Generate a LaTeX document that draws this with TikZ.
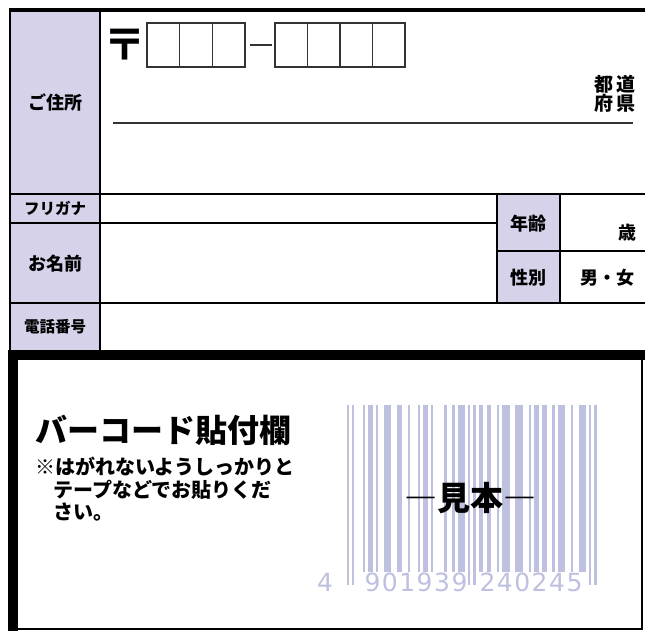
\documentclass[tikz,border=0pt]{standalone}
\usepackage{fontspec}
\usepackage{xcolor}
\usepackage{tikz}
\usetikzlibrary{positioning}
\newfontfamily\jp{Noto Sans CJK JP}
\newfontfamily\digits{DejaVu Sans}[LetterSpace=6]
\definecolor{lav}{HTML}{D5D2EA}
\definecolor{barc}{HTML}{BEC0E0}
\definecolor{rule}{HTML}{333333}

\begin{document}
\begin{tikzpicture}[x=1pt,y=-1pt,inner sep=0pt,
    head/.style={font=\jp\bfseries\fontsize{18}{18}\selectfont},
    small head/.style={font=\jp\bfseries\fontsize{15.5}{16}\selectfont},
    grid/.style={line width=2pt},
    box/.style={draw=rule,line width=1.2pt},
    num/.style={font=\digits\fontsize{25}{25}\selectfont,text=barc}]
    \useasboundingbox (0,0) rectangle (645,632);

    \fill[lav] (10,10) rectangle (100,351);
    \fill[lav] (497,194) rectangle (560,303);
    \draw[line width=3.5pt] (9,10) -- (646,10);
    \draw[line width=2.5pt] (10,9) -- (10,351);
    \draw[grid] (100,10) -- (100,351);
    \draw[grid] (9,194) -- (646,194);
    \draw[grid] (9,223) -- (497,223);
    \draw[grid] (497,251) -- (646,251);
    \draw[grid] (9,303) -- (646,303);
    \draw[grid] (497,194) -- (497,303) (560,194) -- (560,303);

    \node[head] (addr) at (55,102) {ご住所};
    \node[small head] (kana) at (55,208) {フリガナ};
    \node[head] (name) at (55,264) {お名前};
    \node[small head] (tel) at (55,327) {電話番号};
    \node[head] (age) at (528,224) {年齢};
    \node[head] (sex) at (528,278) {性別};
    \node[head] (sai) at (627,233) {歳};
    \node[head] (mf) at (607,278) {男・女};

    \node[font=\jp\bfseries\fontsize{43}{43}\selectfont] (post) at (125,45) {〒};
    \foreach \x in {147,179.7,212.3}
        \draw[box] (\x,23) rectangle +(32.7,44);
    \foreach \x in {275,307.5,340,372.5}
        \draw[box] (\x,23) rectangle +(32.5,44);
    \coordinate (dash a) at (250,45);
    \coordinate (dash b) at (272,45);
    \draw[box] (dash a) -- (dash b);
    \coordinate (line a) at (113,123);
    \coordinate (line b) at (633,123);
    \draw[box] (line a) -- (line b);
    \node[font=\jp\bfseries\fontsize{19}{19}\selectfont,align=center] (pref) at (615,94)
        {都\hspace{4pt}道\\府\hspace{4pt}県};

    \fill (8,350) rectangle (645,360);
    \fill (8,350) rectangle (18,631);
    \draw[line width=2pt] (17,629) -- (642,629) -- (642,359);

    \node[anchor=west,font=\jp\bfseries\fontsize{32}{32}\selectfont] (title) at (35,430)
        {バーコード貼付欄};
    \node[anchor=north west,align=left,font=\jp\bfseries\fontsize{20}{22.5}\selectfont] (note) at (35,457)
        {※はがれないようしっかりと\\\hspace*{18pt}テープなどでお貼りくだ\\\hspace*{18pt}さい。};

    \foreach \s/\w in {6/1,8/2,11/1,14/3,19/2,23/1,27/1,29/2,32/1,37/1,40/1,42/3,
        50/2,53/2,57/1,59/3,64/3,69/1,71/2,74/2,78/1,80/3,85/1,88/3}
        \fill[barc] ({347+\s*2.632},405) rectangle +({\w*2.632-0.4},167);
    \foreach \s in {0,2,46,48,92,94}
        \fill[barc] ({347+\s*2.632},405) rectangle +(2.2,180);
    \node[num] (d0) at (325,582) {4};
    \node[num] (d1) at (416,582) {901939};
    \node[num] (d2) at (531,582) {240245};
    \node[font=\jp\bfseries\fontsize{33}{33}\selectfont] (sample) at (470,498) {―見本―};
\end{tikzpicture}
\end{document}
